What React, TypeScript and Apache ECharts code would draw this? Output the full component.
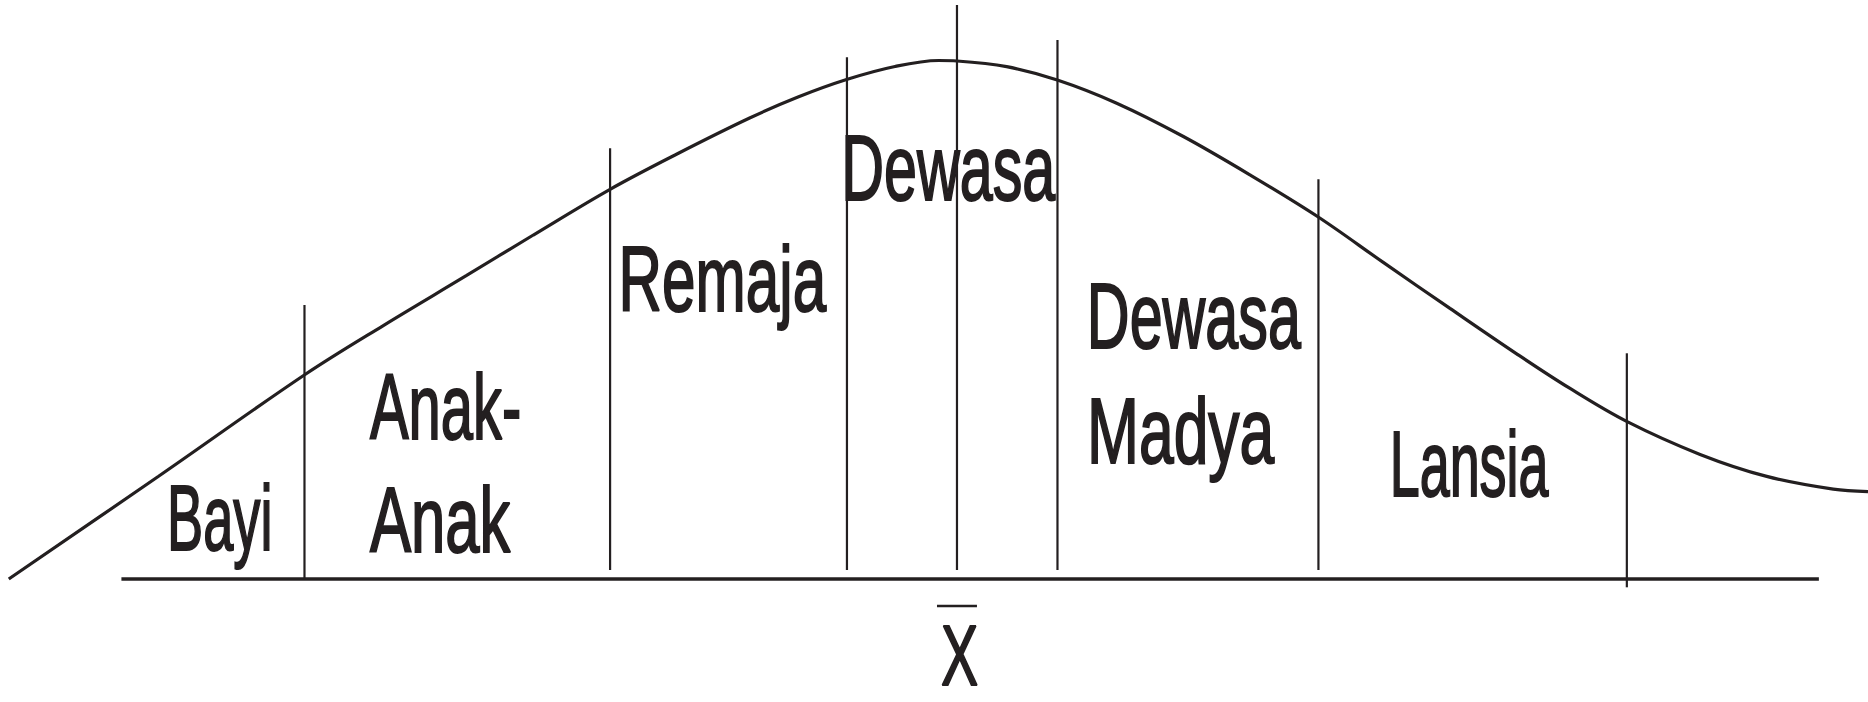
import React, { useEffect, useRef } from "react";
import * as echarts from "echarts";

// Curve: x = % of width, y = % of peak height above the baseline
const curveX = [0.47, 8.47, 16.33, 20.52, 24.98, 28.55, 32.66, 36.24, 40.13, 42.72, 45.32, 47.91, 50.25, 51.23, 53.89, 56.6, 59.78, 63.35, 66.92, 70.57, 74.05, 77.62, 81.19, 84.05, 87.08, 91.01, 94.58, 98.14, 100];
const curveY = [0, 19.75, 39.4, 48.84, 58.48, 66.28, 75.09, 81.89, 88.82, 92.87, 96.24, 98.75, 99.9, 99.81, 98.71, 96.15, 91.68, 85.26, 77.86, 69.75, 61.0, 52.14, 43.39, 36.71, 30.37, 24.01, 19.77, 17.32, 16.84];

// Stage dividers
const dividerX = [16.3, 32.66, 45.34, 51.23, 56.61, 70.58, 87.09];
const dividerTop = [52.79, 82.99, 100.52, 110.6, 103.85, 77.01, 43.49];
const dividerBottom = [0, 1.73, 1.73, 1.73, 1.73, 1.73, -1.6];

// Horizontal axis
const baselineX = [6.5, 97.37];
const baselineY = 0;

// Mean bar over X
const meanBarX = [50.16, 52.3];
const meanBarY = -5.2;

// Labels
const labelTexts = ["Bayi", "Anak-", "Anak", "Remaja", "Dewasa", "Dewasa", "Madya", "Lansia", "X"];
const labelX = [8.89, 19.75, 19.75, 33.06, 44.98, 58.13, 58.14, 74.34, 50.32];
const labelY = [11.75, 33.2, 11.37, 57.75, 79.13, 50.6, 28.52, 22.2, -14.6];

// layout (target ink widths in px, font sizes in px)
const labelWidths = [107, 153, 142, 209, 215.7, 215.6, 188.7, 160.5, 38.7];
const labelSizes = [92, 92, 92, 92, 92, 92, 92, 92, 86];

const INK = "#231f20";
const FONT_FAMILY = '"Liberation Sans Narrow", "Liberation Sans", Arial, sans-serif';

export default function App() {
  const ref = useRef<HTMLDivElement>(null);
  useEffect(() => {
    if (!ref.current) return;
    const chart = echarts.init(ref.current, undefined, { renderer: "svg" });
    const series: any[] = [
      {
        type: "line",
        data: curveX.map((x, i) => [x, curveY[i]]),
        smooth: 0.35,
        symbol: "none",
        clip: false,
        silent: true,
        lineStyle: { color: INK, width: 3.2 },
      },
      {
        type: "line",
        data: baselineX.map((x) => [x, baselineY]),
        symbol: "none",
        clip: false,
        silent: true,
        lineStyle: { color: INK, width: 3.5 },
      },
      {
        type: "line",
        data: meanBarX.map((x) => [x, meanBarY]),
        symbol: "none",
        clip: false,
        silent: true,
        lineStyle: { color: INK, width: 2.5 },
      },
      ...dividerX.map((x, i) => ({
        type: "line",
        data: [
          [x, dividerBottom[i]],
          [x, dividerTop[i]],
        ],
        symbol: "none",
        clip: false,
        silent: true,
        lineStyle: { color: INK, width: 2.2 },
      })),
    ];
    chart.setOption({
      animation: false,
      backgroundColor: "#ffffff",
      grid: { left: 0, right: 0, top: 60, bottom: 123 },
      xAxis: { type: "value", min: 0, max: 100, show: false },
      yAxis: { type: "value", min: 0, max: 100, show: false },
      series,
    });

    const canvas = document.createElement("canvas");
    const ctx = canvas.getContext("2d")!;
    const graphics = labelTexts.map((t, i) => {
      const size = labelSizes[i];
      ctx.font = `${size}px ${FONT_FAMILY}`;
      const p = chart.convertToPixel({ gridIndex: 0 }, [labelX[i], labelY[i]]) as number[];
      const natural = ctx.measureText(t).width || 1;
      const sx = (labelWidths[i] - 1.5) / natural;
      return {
        type: "text",
        x: p[0] + 1,
        y: p[1],
        scaleX: sx,
        silent: true,
        style: {
          text: t,
          x: 0,
          y: 0,
          fill: INK,
          stroke: INK,
          lineWidth: 2,
          font: `${size}px ${FONT_FAMILY}`,
          fontSize: size,
          fontFamily: FONT_FAMILY,
          lineHeight: Math.round(size * 0.74),
          align: "left",
          verticalAlign: "middle",
          textAlign: "left",
          textVerticalAlign: "middle",
        },
      };
    });
    chart.setOption({ graphic: graphics });

    return () => chart.dispose();
  }, []);
  return (
    <div
      ref={ref}
      style={{ position: "absolute", left: 0, top: 0, width: 1868, height: 702, background: "#fff" }}
    />
  );
}
